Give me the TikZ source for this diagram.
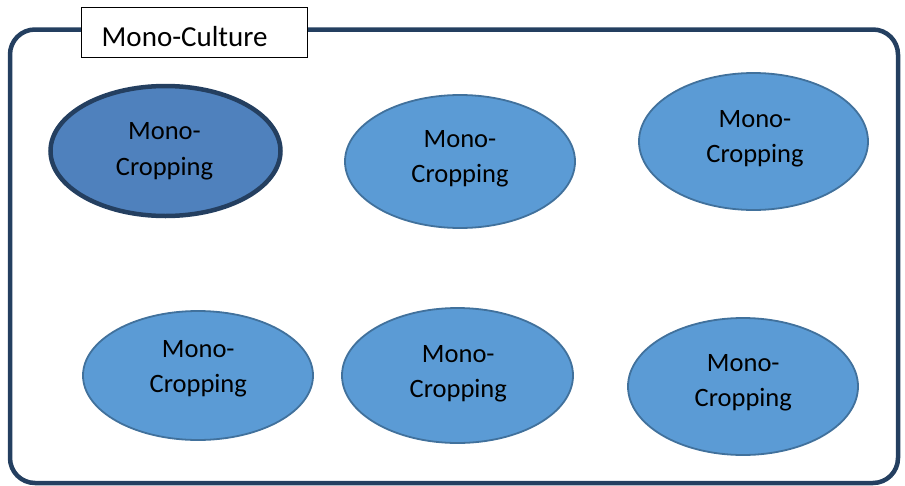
\documentclass[tikz,border=0pt]{standalone}
\usepackage{fontspec}
\setmainfont{Carlito}
\usetikzlibrary{shapes.geometric}
\definecolor{frameblue}{HTML}{243F60}
\definecolor{darkfill}{HTML}{4F81BD}
\definecolor{lightfill}{HTML}{5B9BD5}
\definecolor{lightline}{HTML}{41719C}
\tikzset{
  crop/.style={ellipse, fill=lightfill, draw=lightline, line width=1.8pt, inner sep=0pt},
  cropsel/.style={crop, fill=darkfill, draw=frameblue, line width=4.5pt},
  croptext/.style={anchor=base, align=center, inner sep=0pt,
    font=\fontsize{26.5}{35.3}\selectfont},
  frame/.style={draw=frameblue, line width=4.5pt, rounded corners=25pt},
  tag/.style={draw=black, fill=white, line width=0.9pt},
}
\begin{document}
\begin{tikzpicture}[x=1pt,y=-1pt]
  \useasboundingbox (0,0) rectangle (905,485);
  % outer frame
  \draw[frame] (10,29.5) rectangle (898,483);
  % title tab
  \draw[tag] (81.5,7.5) rectangle (307.5,57.5);
  \node[anchor=base west, inner sep=0pt, font=\fontsize{29}{34}\selectfont]
    (title) at (101.5,46.7) {Mono-Culture};
  % crop ellipses
  \node[cropsel, minimum width=230pt, minimum height=130pt] (c1) at (165.5,151) {};
  \node[crop, minimum width=230pt, minimum height=133pt] (c2) at (460,161.5) {};
  \node[crop, minimum width=229pt, minimum height=137pt] (c3) at (753.5,141.5) {};
  \node[crop, minimum width=230pt, minimum height=129pt] (c4) at (198,375.5) {};
  \node[crop, minimum width=231pt, minimum height=135pt] (c5) at (457.5,375.5) {};
  \node[crop, minimum width=230pt, minimum height=137pt] (c6) at (743,386.5) {};
  % labels, placed on the baseline of their last line
  \node[croptext] (t1) at (164.5,175) {Mono-\\Cropping};
  \node[croptext] (t2) at (460,182.7) {Mono-\\Cropping};
  \node[croptext] (t3) at (755,162.7) {Mono-\\Cropping};
  \node[croptext] (t4) at (198.3,392.7) {Mono-\\Cropping};
  \node[croptext] (t5) at (458.3,397.7) {Mono-\\Cropping};
  \node[croptext] (t6) at (743.3,406.7) {Mono-\\Cropping};
\end{tikzpicture}
\end{document}
